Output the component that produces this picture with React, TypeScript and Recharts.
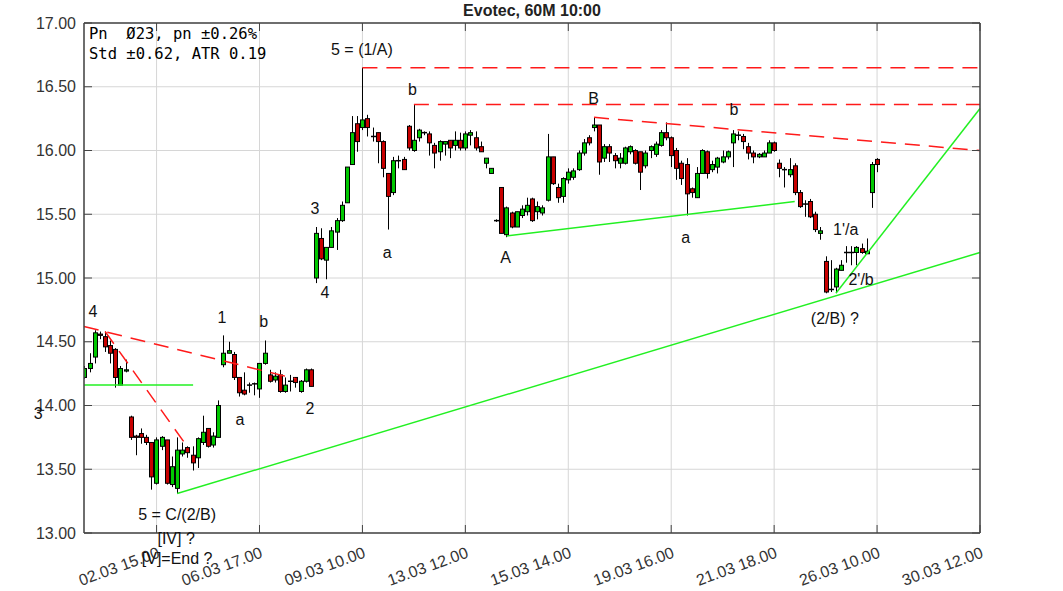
import React from "react";
import {
  ComposedChart,
  Bar,
  XAxis,
  YAxis,
  CartesianGrid,
  ReferenceLine,
  ReferenceDot,
} from "recharts";

if (typeof document !== "undefined") document.body.style.margin = "0";

// Evotec 60M candles (k = bar index)
const openP = [
  14.22, 14.29, 14.38, 14.56, 14.54, 14.47, 14.44, 14.16, 14.27, 13.91,
  13.76, 13.78, 13.75, 13.71, 13.39, 13.68, 13.73, 13.38, 13.35, 13.62,
  13.67, 13.61, 13.59, 13.71, 13.82, 13.69, 13.75, 14.32, 14.41, 14.40,
  14.22, 14.12, 14.16, 14.17, 14.13, 14.33, 14.24, 14.20, 14.24, 14.11,
  14.19, 14.22, 14.11, 14.19, 14.28, 15.00, 15.31, 15.14, 15.24, 15.36,
  15.45, 15.59, 15.89, 16.21, 16.18, 16.25, 16.11, 16.14, 16.07, 15.82,
  15.67, 15.92, 15.93, 16.19, 16.00, 16.10, 16.14, 16.13, 16.04, 15.99,
  16.05, 16.08, 16.04, 16.08, 16.02, 16.12, 16.10, 16.03, 15.90, 15.82,
  15.45, 15.71, 15.34, 15.51, 15.40, 15.49, 15.52, 15.62, 15.52, 15.51,
  15.61, 15.95, 15.71, 15.64, 15.77, 15.79, 15.85, 15.98, 16.10, 16.18,
  16.20, 15.94, 16.03, 15.96, 15.90, 15.90, 15.99, 16.00, 15.99, 15.88,
  16.00, 15.97, 16.04, 16.14, 16.10, 16.00, 15.90, 15.89, 15.70, 15.63,
  15.82, 15.99, 15.85, 15.87, 15.91, 15.95, 16.06, 16.12, 16.11, 16.03,
  15.98, 15.95, 15.95, 15.98, 16.06, 15.90, 15.85, 15.81, 15.88, 15.67,
  15.58, 15.60, 15.50, 15.35, 15.13, 14.91, 14.93, 15.06, 15.20, 15.20,
  15.20, 15.23, 15.19, 15.67, 15.93,
];
const highP = [
  14.31, 14.41, 14.59, 14.58, 14.58, 14.51, 14.45, 14.31, 14.36, 13.92,
  13.77, 13.82, 13.77, 13.71, 13.75, 13.76, 13.73, 13.60, 13.75, 13.71,
  13.68, 13.68, 13.75, 13.92, 13.82, 13.79, 14.04, 14.55, 14.50, 14.42,
  14.22, 14.26, 14.18, 14.18, 14.33, 14.51, 14.28, 14.26, 14.28, 14.22,
  14.24, 14.22, 14.20, 14.29, 14.29, 15.40, 15.39, 15.24, 15.40, 15.47,
  15.60, 15.87, 16.27, 16.27, 16.65, 16.28, 16.18, 16.14, 16.08, 15.82,
  15.95, 15.96, 15.95, 16.20, 16.36, 16.17, 16.15, 16.15, 16.06, 16.08,
  16.07, 16.08, 16.15, 16.14, 16.15, 16.16, 16.15, 16.07, 15.94, 15.86,
  15.46, 15.71, 15.56, 15.52, 15.52, 15.57, 15.63, 15.63, 15.60, 15.57,
  16.13, 15.95, 15.74, 15.79, 15.86, 15.86, 16.00, 16.09, 16.12, 16.26,
  16.20, 16.05, 16.05, 15.98, 15.98, 16.03, 16.04, 16.01, 15.99, 16.00,
  16.04, 16.07, 16.16, 16.22, 16.11, 16.02, 15.92, 15.94, 15.71, 15.87,
  16.01, 16.00, 15.92, 15.95, 16.00, 16.00, 16.16, 16.15, 16.13, 16.06,
  16.00, 15.98, 16.00, 16.08, 16.07, 15.93, 15.87, 15.94, 15.90, 15.69,
  15.61, 15.62, 15.52, 15.40, 15.17, 15.14, 15.08, 15.14, 15.25, 15.25,
  15.25, 15.27, 15.31, 15.91, 15.94,
];
const lowP = [
  14.21, 14.26, 14.33, 14.52, 14.42, 14.33, 14.14, 14.16, 14.26, 13.73,
  13.61, 13.70, 13.69, 13.34, 13.38, 13.65, 13.38, 13.36, 13.31, 13.60,
  13.59, 13.49, 13.51, 13.69, 13.67, 13.67, 13.75, 14.30, 14.41, 14.20,
  14.07, 14.08, 14.10, 14.08, 14.06, 14.32, 14.18, 14.18, 14.10, 14.10,
  14.11, 14.14, 14.10, 14.18, 14.15, 14.96, 15.14, 14.99, 15.24, 15.22,
  15.44, 15.59, 15.89, 15.99, 16.16, 16.11, 16.07, 15.90, 15.79, 15.38,
  15.65, 15.86, 15.85, 16.00, 15.99, 16.07, 16.12, 15.96, 15.86, 15.92,
  15.96, 15.94, 16.00, 16.00, 16.00, 16.04, 16.00, 15.99, 15.86, 15.82,
  15.44, 15.35, 15.32, 15.39, 15.40, 15.47, 15.49, 15.44, 15.46, 15.49,
  15.60, 15.73, 15.59, 15.59, 15.74, 15.77, 15.84, 15.96, 16.04, 16.15,
  15.81, 15.91, 15.91, 15.86, 15.86, 15.89, 15.97, 15.89, 15.69, 15.86,
  15.94, 15.95, 16.03, 16.08, 15.87, 15.77, 15.73, 15.49, 15.63, 15.63,
  15.82, 15.78, 15.83, 15.82, 15.90, 15.93, 15.87, 16.08, 16.01, 15.93,
  15.90, 15.94, 15.95, 15.98, 15.99, 15.79, 15.71, 15.79, 15.65, 15.55,
  15.48, 15.47, 15.36, 15.30, 14.88, 14.89, 14.89, 15.06, 15.12, 15.10,
  15.10, 15.19, 15.19, 15.55, 15.83,
];
const closeP = [
  14.29, 14.33, 14.57, 14.55, 14.46, 14.41, 14.22, 14.29, 14.28, 13.75,
  13.75, 13.75, 13.71, 13.44, 13.73, 13.75, 13.39, 13.52, 13.65, 13.65,
  13.63, 13.55, 13.74, 13.79, 13.68, 13.76, 14.00, 14.41, 14.43, 14.22,
  14.10, 14.09, 14.16, 14.17, 14.33, 14.41, 14.19, 14.23, 14.11, 14.16,
  14.19, 14.18, 14.19, 14.28, 14.15, 15.35, 15.15, 15.24, 15.37, 15.45,
  15.57, 15.87, 16.14, 16.07, 16.24, 16.18, 16.11, 16.07, 15.86, 15.64,
  15.92, 15.92, 15.85, 16.02, 16.08, 16.16, 16.14, 16.06, 15.98, 16.07,
  16.07, 16.02, 16.08, 16.02, 16.13, 16.14, 16.02, 15.99, 15.94, 15.86,
  15.45, 15.35, 15.55, 15.40, 15.52, 15.54, 15.57, 15.45, 15.56, 15.55,
  15.95, 15.74, 15.63, 15.78, 15.83, 15.84, 15.98, 16.06, 16.06, 16.20,
  15.91, 16.03, 15.98, 15.92, 15.94, 16.02, 16.03, 15.90, 15.83, 15.98,
  16.03, 16.05, 16.14, 16.10, 15.96, 15.86, 15.78, 15.66, 15.67, 15.82,
  16.00, 15.82, 15.89, 15.94, 15.95, 15.99, 16.13, 16.12, 16.07, 15.98,
  15.95, 15.97, 15.98, 16.06, 16.00, 15.86, 15.85, 15.85, 15.67, 15.56,
  15.58, 15.48, 15.38, 15.37, 14.89, 14.91, 15.07, 15.10, 15.20, 15.20,
  15.24, 15.20, 15.21, 15.89, 15.89,
];

const xTickIdx = [14, 34, 54, 74, 94, 114, 134, 154, 174];
const xTickLabels = [
  "02.03 15.00",
  "06.03 17.00",
  "09.03 10.00",
  "13.03 12.00",
  "15.03 14.00",
  "19.03 16.00",
  "21.03 18.00",
  "26.03 10.00",
  "30.03 12.00",
];
const yTicks = [13, 13.5, 14, 14.5, 15, 15.5, 16, 16.5, 17];

// trend lines [k1, price1, k2, price2]
const redLines = [
  [54, 16.65, 174, 16.65],
  [64, 16.36, 174, 16.36],
  [99, 16.26, 174, 16.0],
  [-0.1, 14.62, 41, 14.21],
  [4, 14.58, 20.1, 13.67],
];
const greenLines = [
  [-0.1, 14.16, 21.1, 14.16],
  [18, 13.31, 174, 15.2],
  [82, 15.33, 138, 15.6],
  [146, 14.88, 174, 16.33],
];

// wave labels [k, price, text]
const waveLabels: [number, number, string][] = [
  [1.65, 14.74, "4"],
  [-9.0, 13.94, "3"],
  [18, 13.15, "5 = C/(2/B)"],
  [17.8, 12.96, "[IV] ?"],
  [18, 12.8, "[V]=End ?"],
  [26.7, 14.69, "1"],
  [34.8, 14.66, "b"],
  [30.2, 13.89, "a"],
  [43.8, 13.98, "2"],
  [44.8, 15.55, "3"],
  [46.7, 14.89, "4"],
  [53.9, 16.79, "5 = (1/A)"],
  [63.7, 16.48, "b"],
  [58.8, 15.2, "a"],
  [81.8, 15.16, "A"],
  [98.9, 16.41, "B"],
  [116.8, 15.32, "a"],
  [126.2, 16.32, "b"],
  [147.9, 15.38, "1'/a"],
  [150.9, 14.99, "2'/b"],
  [145.8, 14.68, "(2/B) ?"],
];

const candles = openP.map((o, i) => ({
  k: i,
  open: o,
  high: highP[i],
  low: lowP[i],
  close: closeP[i],
  range: [lowP[i], highP[i]],
}));

const FONT = "'Liberation Sans', Arial, sans-serif";
const GREEN = "#00c800";
const RED = "#c80000";
const FRAME = "#444";
const X_DOMAIN: [number, number] = [-0.1, 174];
const Y_DOMAIN: [number, number] = [13, 17];

function CandleShape(props: any) {
  const { x, y, width, height, payload } = props;
  if (x == null || y == null || !payload) return null;
  const { open, close, high, low } = payload;
  const cx = Math.round(x + width / 2) + 0.5;
  const top = Math.min(y, y + height);
  const h = Math.abs(height);
  const span = high - low;
  const py = (v: number) => (span > 0 ? top + ((high - v) / span) * h : top);
  const bTop = py(Math.max(open, close));
  const bBot = py(Math.min(open, close));
  const flat = bBot - bTop < 1;
  return (
    <g>
      <line x1={cx} x2={cx} y1={top} y2={top + h} stroke="#000" strokeWidth={1} />
      {flat ? (
        <line
          x1={cx - 2.5}
          x2={cx + 2.5}
          y1={(bTop + bBot) / 2}
          y2={(bTop + bBot) / 2}
          stroke="#000"
          strokeWidth={1.5}
        />
      ) : (
        <rect
          x={cx - 2}
          y={bTop}
          width={4}
          height={bBot - bTop}
          fill={close > open ? GREEN : RED}
          stroke="#000"
          strokeWidth={1}
        />
      )}
    </g>
  );
}

const XTick = (props: any) => {
  const { x, payload } = props;
  const i = xTickIdx.indexOf(payload.value);
  const tx = x + 4;
  const ty = 557;
  return (
    <text
      x={tx}
      y={ty}
      textAnchor="end"
      transform={`rotate(-20, ${tx}, ${ty})`}
      fontSize={16}
      fontFamily={FONT}
      fill="#333"
    >
      {xTickLabels[i]}
    </text>
  );
};

const YTick = (props: any) => {
  const { y, payload } = props;
  return (
    <text
      x={76}
      y={y}
      textAnchor="end"
      dominantBaseline="central"
      fontSize={16}
      fontFamily={FONT}
      fill="#333"
    >
      {payload.value.toFixed(2)}
    </text>
  );
};

const NoTick = () => <g />;

export default function App() {
  return (
    <div style={{ position: "relative", width: 1063, height: 591, fontFamily: FONT }}>
      <ComposedChart
        width={1063}
        height={591}
        data={candles}
        margin={{ top: 23, right: 83, bottom: 0, left: 0 }}
      >
        <CartesianGrid stroke="#d6d6d6" strokeWidth={1} />
        <XAxis
          dataKey="k"
          type="number"
          domain={X_DOMAIN}
          ticks={xTickIdx}
          allowDataOverflow
          height={58}
          tickLine={false}
          axisLine={{ stroke: FRAME, strokeWidth: 1.5 }}
          tick={<XTick />}
          interval={0}
        />
        <XAxis
          xAxisId="bt"
          dataKey="k"
          type="number"
          domain={X_DOMAIN}
          ticks={xTickIdx}
          allowDataOverflow
          mirror
          tickSize={8}
          tickLine={{ stroke: FRAME }}
          axisLine={false}
          tick={<NoTick />}
          interval={0}
        />
        <XAxis
          xAxisId="top"
          orientation="top"
          dataKey="k"
          type="number"
          domain={X_DOMAIN}
          ticks={xTickIdx}
          allowDataOverflow
          mirror
          tickSize={8}
          tickLine={{ stroke: FRAME }}
          axisLine={{ stroke: FRAME, strokeWidth: 1.5 }}
          tick={<NoTick />}
          interval={0}
        />
        <YAxis
          type="number"
          domain={Y_DOMAIN}
          ticks={yTicks}
          allowDataOverflow
          width={84}
          tickLine={false}
          axisLine={{ stroke: FRAME, strokeWidth: 1.5 }}
          tick={<YTick />}
          interval={0}
        />
        <YAxis
          yAxisId="lt"
          type="number"
          domain={Y_DOMAIN}
          ticks={yTicks}
          allowDataOverflow
          mirror
          tickSize={8}
          tickLine={{ stroke: FRAME }}
          axisLine={false}
          tick={<NoTick />}
          interval={0}
        />
        <YAxis
          yAxisId="rt"
          orientation="right"
          type="number"
          domain={Y_DOMAIN}
          ticks={yTicks}
          allowDataOverflow
          mirror
          tickSize={8}
          tickLine={{ stroke: FRAME }}
          axisLine={{ stroke: FRAME, strokeWidth: 1.5 }}
          tick={<NoTick />}
          interval={0}
        />
        <Bar dataKey="range" shape={CandleShape} barSize={5} isAnimationActive={false} />
        {redLines.map((l, i) => (
          <ReferenceLine
            key={`r${i}`}
            segment={[
              { x: l[0], y: l[1] },
              { x: l[2], y: l[3] },
            ]}
            stroke="#ff1a1a"
            strokeWidth={1.5}
            strokeDasharray="15 9"
            ifOverflow="visible"
          />
        ))}
        {greenLines.map((l, i) => (
          <ReferenceLine
            key={`g${i}`}
            segment={[
              { x: l[0], y: l[1] },
              { x: l[2], y: l[3] },
            ]}
            stroke="#22f022"
            strokeWidth={1.5}
            ifOverflow="visible"
          />
        ))}
        {waveLabels.map((w, i) => (
          <ReferenceDot
            key={`w${i}`}
            x={w[0]}
            y={w[1]}
            r={0}
            fill="none"
            stroke="none"
            ifOverflow="visible"
            label={{
              value: w[2],
              position: "center",
              fill: "#111",
              fontSize: 16,
              fontFamily: FONT,
            }}
          />
        ))}
      </ComposedChart>
      <svg
        width={1063}
        height={591}
        style={{ position: "absolute", left: 0, top: 0, pointerEvents: "none" }}
      >
        <text
          x={532}
          y={16}
          textAnchor="middle"
          fontSize={16}
          fontWeight="bold"
          fontFamily={FONT}
          fill="#222"
        >
          Evotec, 60M 10:00
        </text>
        <text
          x={89}
          y={39}
          fontSize={15.5}
          fontFamily="'DejaVu Sans Mono', monospace"
          fill="#000"
          style={{ whiteSpace: "pre" }}
        >
          {"Pn  Ø23, pn ±0.26%"}
        </text>
        <text
          x={89}
          y={59}
          fontSize={15.5}
          fontFamily="'DejaVu Sans Mono', monospace"
          fill="#000"
          style={{ whiteSpace: "pre" }}
        >
          {"Std ±0.62, ATR 0.19"}
        </text>
      </svg>
    </div>
  );
}
